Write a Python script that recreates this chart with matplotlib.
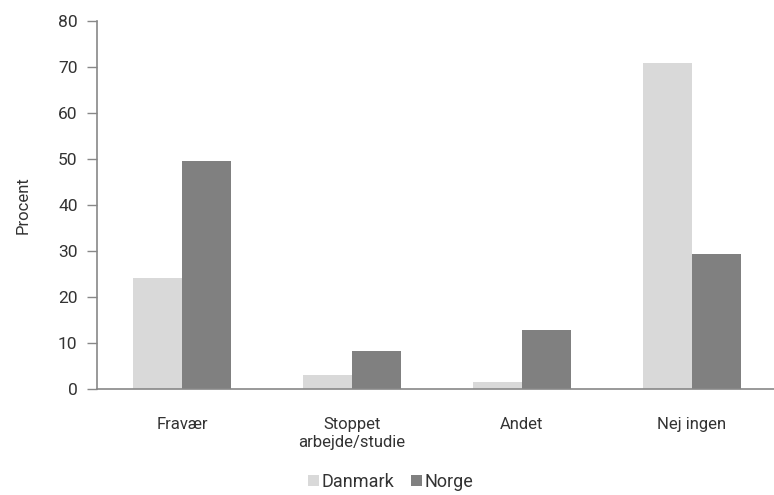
import matplotlib
matplotlib.use("Agg")
import matplotlib.pyplot as plt
import numpy as np

plt.rcParams['font.family'] = ['Roboto', 'DejaVu Sans']

categories = ["Fravær", "Stoppet\narbejde/studie", "Andet", "Nej ingen"]
danmark = [24.1, 3.0, 1.6, 70.9]
norge = [49.6, 8.3, 12.8, 29.3]
series_names = ["Danmark", "Norge"]
colors = ["#d9d9d9", "#808080"]
yticks = [0, 10, 20, 30, 40, 50, 60, 70, 80]

fig = plt.figure(figsize=(7.74, 4.95), dpi=100)
ax = fig.add_axes([97/774, 1-389/495, 680/774, 368/495])

x = np.arange(len(categories))
w = 0.29
ax.bar(x - w/2, danmark, width=w, color=colors[0], label=series_names[0])
ax.bar(x + w/2, norge, width=w, color=colors[1], label=series_names[1])

ax.set_xlim(-0.5, 3.5)
ax.set_ylim(0, 80)
ax.set_yticks(yticks)
ax.set_xticks(x)
ax.set_xticklabels(categories, fontsize=12, color="#333333", linespacing=1.25)
ax.tick_params(axis='y', labelsize=12.5, labelcolor="#333333", color="#888888", length=7, width=1, pad=7)
ax.tick_params(axis='x', length=0, pad=20)
for s in ["top", "right"]:
    ax.spines[s].set_visible(False)
for s in ["left", "bottom"]:
    ax.spines[s].set_color("#888888")
    ax.spines[s].set_linewidth(1.2)
ax.set_ylabel("Procent", fontsize=12, color="#333333", labelpad=20)

fig.legend(loc="lower center", bbox_to_anchor=(0.505, -0.025), ncol=2, frameon=False,
           fontsize=13, handlelength=0.6, handleheight=0.6, handletextpad=0.15,
           columnspacing=0.9, labelcolor="#333333")

fig.savefig("out.png", dpi=100)
